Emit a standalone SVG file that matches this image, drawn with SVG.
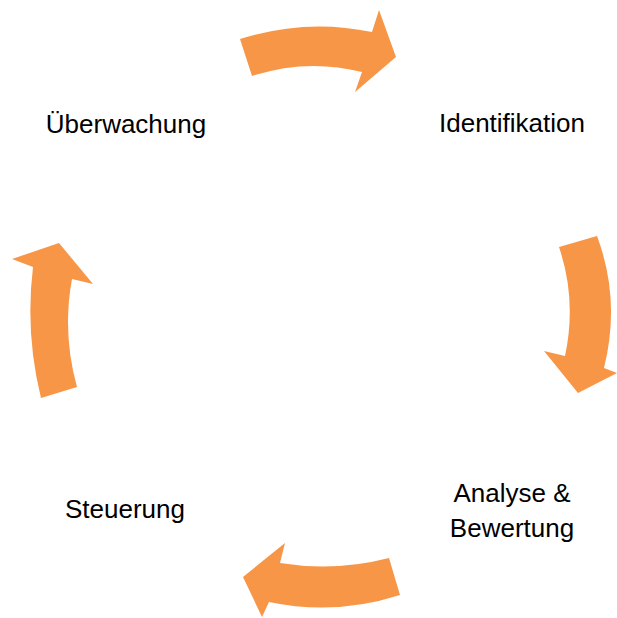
<svg xmlns="http://www.w3.org/2000/svg" width="617" height="618" viewBox="0 0 617 618">
<style>
.arrow{fill:#F79646;stroke:none}
.lbl{font-family:"Liberation Sans",Arial,sans-serif;font-size:26px;fill:#000;text-anchor:middle}
</style>
<rect width="617" height="618" fill="#fff"/>
<g id="connectors">
<path class="arrow" d="M240,39 Q306,18 372,32 L379,10 L396,57 L355,92 L362,72 Q307,58 252,76 Z"/>
<path class="arrow" d="M559,247 L597,236 Q621,300 604,368 L617,373 L578,393 L544,351 L565,356 Q577,300 559,247 Z"/>
<path class="arrow" d="M389,558 Q335,572 280,563 L285,543 L243,577 L262,617 L269,602 Q335,616 400,595 Z"/>
<path class="arrow" d="M41,398 Q25,333 33,267 L12,259 L59,243 L93,284 L72,279 Q62,333 77,387 Z"/>
</g>
<g id="identifikation"><text class="lbl" x="512" y="132">Identifikation</text></g>
<g id="analyse"><text class="lbl" x="512" y="502">Analyse &amp;</text><text class="lbl" x="512" y="537">Bewertung</text></g>
<g id="steuerung"><text class="lbl" x="125" y="518">Steuerung</text></g>
<g id="ueberwachung"><text class="lbl" x="126" y="133">Überwachung</text></g>
</svg>
